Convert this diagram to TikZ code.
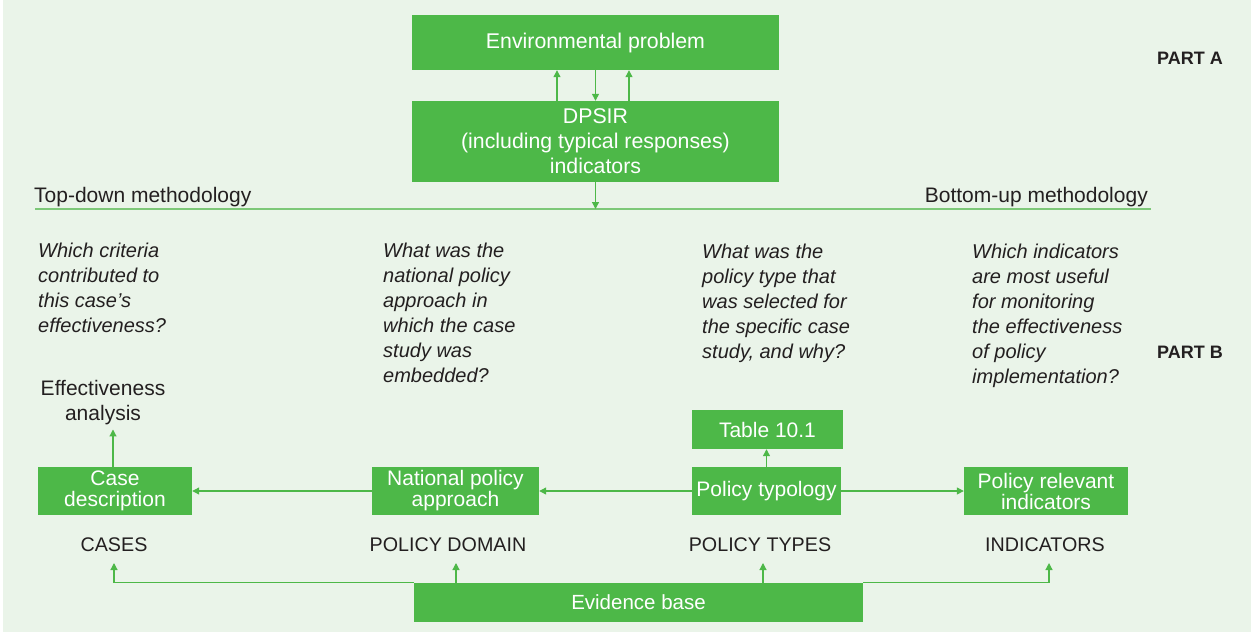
\documentclass[tikz,border=0pt]{standalone}
\usepackage{fontspec}
\setmainfont{Liberation Sans}
\usetikzlibrary{arrows.meta,calc}
\definecolor{bg}{RGB}{234,244,233}
\definecolor{boxg}{RGB}{77,184,72}
\definecolor{lineg}{RGB}{125,200,120}
\definecolor{txt}{RGB}{35,31,32}
\begin{document}
\begin{tikzpicture}[x=1pt,y=-1pt,
  gbox/.style={fill=boxg,draw=none,text=white,inner sep=0pt,align=center,font=\fontsize{21}{21}\selectfont},
  lbl/.style={text=txt,inner sep=0pt,font=\fontsize{21}{25}\selectfont},
  caps/.style={text=txt,inner sep=0pt,font=\fontsize{19.7}{24}\selectfont},
  ques/.style={text=txt,inner sep=0pt,anchor=north west,align=left,font=\fontsize{20}{25}\selectfont\itshape},
  arr/.style={draw=boxg,line width=1.2pt,-{Triangle[length=7pt,width=7pt]}},
  ln/.style={draw=boxg,line width=1pt}]
\useasboundingbox (0,0) rectangle (1251,635);
\fill[white] (0,0) rectangle (1251,635);
\fill[bg] (3,0) rectangle (1251,632);
% top boxes
\node[gbox,minimum width=367pt,minimum height=55pt,font=\fontsize{21.3}{24}\selectfont] (env) at (595.5,42.5) {Environmental problem};
\node[gbox,minimum width=367pt,minimum height=81pt,font=\fontsize{21.3}{25}\selectfont] (dpsir) at (595.5,141.5) {DPSIR\\(including typical responses)\\indicators};
\coordinate (xa) at (557,0);
\coordinate (xb) at (595.5,0);
\coordinate (xc) at (629,0);
\draw[arr] (dpsir.north -| xa) -- (env.south -| xa);
\draw[arr] (env.south -| xb) -- (dpsir.north -| xb);
\draw[arr] (dpsir.north -| xc) -- (env.south -| xc);
% methodology line
\coordinate (ll) at (35,209);
\coordinate (lr) at (1151,209);
\draw[draw=lineg,line width=1.5pt] (ll) -- (lr);
\draw[arr] (dpsir.south) -- (dpsir.south |- ll);
\node[lbl,anchor=west] (td) at (34,197) {Top-down methodology};
\node[lbl,anchor=east] (bu) at (1148,197) {Bottom-up methodology};
\node[lbl,anchor=east,font=\fontsize{18}{20}\selectfont\bfseries] (pa) at (1223,58) {PART A};
\node[lbl,anchor=east,font=\fontsize{18}{20}\selectfont\bfseries] (pb) at (1223,352) {PART B};
% questions
\node[ques] (q1) at (38,243) {Which criteria\\contributed to\\this case’s\\effectiveness?};
\node[ques] (q2) at (383,243) {What was the\\national policy\\approach in\\which the case\\study was\\embedded?};
\node[ques] (q3) at (702,244) {What was the\\policy type that\\was selected for\\the specific case\\study, and why?};
\node[ques] (q4) at (972,244) {Which indicators\\are most useful\\for monitoring\\the effectiveness\\of policy\\implementation?};
\node[lbl,align=center] (eff) at (103,403) {Effectiveness\\analysis};
% second row boxes
\node[gbox,minimum width=154pt,minimum height=48pt] (case) at (115,491) {Case\\description};
\node[gbox,minimum width=167pt,minimum height=48pt] (nat) at (455.5,491) {National policy\\approach};
\node[gbox,minimum width=149pt,minimum height=48pt] (typ) at (766.5,491) {Policy typology};
\node[gbox,minimum width=151pt,minimum height=39pt] (tab) at (767.5,429.5) {Table 10.1};
\node[gbox,minimum width=164pt,minimum height=48pt] (rel) at (1046,491) {Policy relevant\\indicators};
\draw[arr] (typ.west) -- (nat.east);
\draw[arr] (nat.west) -- (case.east);
\draw[arr] (typ.east) -- (rel.west);
\draw[arr] (typ.north) -- (typ.north |- tab.south);
\coordinate (xe) at (113,0);
\draw[arr] (case.north -| xe) -- ([yshift=-4pt]eff.south -| xe);
% labels
\node[caps] (cases) at (114,545) {CASES};
\node[caps] (dom) at (448,545) {POLICY DOMAIN};
\node[caps] (types) at (760,545) {POLICY TYPES};
\node[caps] (ind) at (1045,545) {INDICATORS};
% evidence base
\node[gbox,minimum width=449pt,minimum height=39pt,font=\fontsize{20.5}{24}\selectfont] (ev) at (638.5,602.5) {Evidence base};
\coordinate (xl) at (114,0);
\coordinate (xn) at (456,0);
\coordinate (xt) at (763,0);
\coordinate (xr) at (1049,0);
\coordinate (ya) at (0,563);
\draw[arr] (ev.north west) -| (xl |- ya);
\draw[arr] (ev.north -| xn) -- (xn |- ya);
\draw[arr] (ev.north -| xt) -- (xt |- ya);
\draw[arr] (ev.north east) -| (xr |- ya);
\end{tikzpicture}
\end{document}
